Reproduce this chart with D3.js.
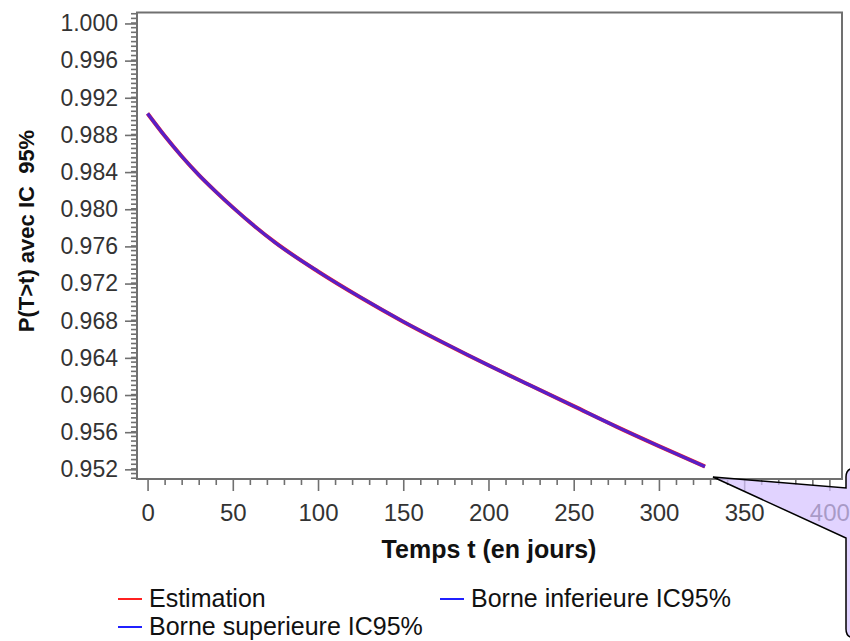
<!DOCTYPE html>
<html>
<head>
<meta charset="utf-8">
<script src="https://cdn.jsdelivr.net/npm/d3@7"></script>
<style>
    body { margin: 0; background: #fff; }
    svg { display: block; font-family: "Liberation Sans", Arial, sans-serif; }
</style>
</head>
<body>
<svg id="chart" width="850" height="641"></svg>
<script>
'use strict';

// values
const TIMES = [0, 10, 20, 30, 40, 50, 75, 100, 125, 150, 175, 200, 225, 250, 275, 300, 327];
const ESTIMATION = [0.9903, 0.9879, 0.9857, 0.9837, 0.9819, 0.9802, 0.9764, 0.9733, 0.9705, 0.9679, 0.9655, 0.9632, 0.9610, 0.9588, 0.9566, 0.9545, 0.9523];
const BORNE_INF = [0.9903, 0.9879, 0.9857, 0.9837, 0.9819, 0.9802, 0.9764, 0.9733, 0.9705, 0.9679, 0.9655, 0.9632, 0.9610, 0.9588, 0.9566, 0.9545, 0.9523];
const BORNE_SUP = [0.9903, 0.9879, 0.9857, 0.9837, 0.9819, 0.9802, 0.9764, 0.9733, 0.9705, 0.9679, 0.9655, 0.9632, 0.9610, 0.9588, 0.9566, 0.9545, 0.9523];

const X_TICKS = [0, 50, 100, 150, 200, 250, 300, 350, 400];
const Y_TICKS = [0.952, 0.956, 0.960, 0.964, 0.968, 0.972, 0.976, 0.980, 0.984, 0.988, 0.992, 0.996, 1.000];

const SERIES = [
    {name: 'Borne superieure IC95%', values: BORNE_SUP, color: '#2020ff'},
    {name: 'Borne inferieure IC95%', values: BORNE_INF, color: '#2020ff'},
    {name: 'Estimation', values: ESTIMATION, color: '#ff2020'}
];

const FRAME = {left: 137, top: 12.5, right: 842, bottom: 479};
const AXIS_COLOR = '#707070';

let svg = d3.select('#chart');

let x = d3.scaleLinear().domain([-6.2, 407.4]).range([FRAME.left, FRAME.right]);
let y = d3.scaleLinear().domain([0.95096, 1.00118]).range([FRAME.bottom, FRAME.top]);

// minor ticks
let xMinor = d3.range(0, 401, 10).filter((d) => d % 50 !== 0);
let yMinor = d3.range(9511, 10012, 5).map((d) => d / 10000).filter((d) => Math.round(d * 10000) % 40 !== 0);

function styleAxis(g) {
    g.select('.domain').remove();
    g.selectAll('line').attr('stroke', AXIS_COLOR).attr('stroke-width', 1.6);
    g.selectAll('text').attr('fill', '#333');
}

svg.append('g')
    .attr('transform', `translate(0,${FRAME.bottom})`)
    .call(d3.axisBottom(x).tickValues(xMinor).tickSize(6).tickFormat(''))
    .call(styleAxis);

svg.append('g')
    .attr('transform', `translate(0,${FRAME.bottom})`)
    .call(d3.axisBottom(x).tickValues(X_TICKS).tickSize(12).tickPadding(13).tickFormat(d3.format('d')))
    .call(styleAxis)
    .selectAll('text')
    .style('font-size', '24px');

svg.append('g')
    .attr('transform', `translate(${FRAME.left},0)`)
    .call(d3.axisLeft(y).tickValues(yMinor).tickSize(6).tickFormat(''))
    .call(styleAxis);

svg.append('g')
    .attr('transform', `translate(${FRAME.left},0)`)
    .call(d3.axisLeft(y).tickValues(Y_TICKS).tickSize(12).tickPadding(7).tickFormat(d3.format('.3f')))
    .call(styleAxis)
    .selectAll('text')
    .style('font-size', '23px');

svg.append('rect')
    .attr('x', FRAME.left)
    .attr('y', FRAME.top)
    .attr('width', FRAME.right - FRAME.left)
    .attr('height', FRAME.bottom - FRAME.top)
    .attr('fill', 'none')
    .attr('stroke', AXIS_COLOR)
    .attr('stroke-width', 2);

// curves: the three series sit on top of each other
let line = d3.line()
    .x((d, i) => x(TIMES[i]))
    .y((d) => y(d))
    .curve(d3.curveMonotoneX);

svg.append('path')
    .attr('d', line(ESTIMATION))
    .attr('fill', 'none')
    .attr('stroke', '#ff2020')
    .attr('stroke-width', 4);

SERIES.filter((s) => s.name !== 'Estimation').forEach((s) => {
    svg.append('path')
        .attr('d', line(s.values))
        .attr('fill', 'none')
        .attr('stroke', s.color)
        .attr('stroke-width', 3.2)
        .attr('stroke-opacity', 0.5);
});

// axis titles
svg.append('text')
    .attr('x', 489)
    .attr('y', 558)
    .attr('text-anchor', 'middle')
    .style('font-size', '25px')
    .style('font-weight', 'bold')
    .attr('fill', '#111')
    .text('Temps t (en jours)');

svg.append('text')
    .attr('transform', 'translate(34,231) rotate(-90)')
    .attr('text-anchor', 'middle')
    .style('font-size', '22px')
    .style('font-weight', 'bold')
    .style('white-space', 'pre')
    .attr('fill', '#111')
    .text('P(T>t) avec IC  95%');

// legend
const LEGEND = [
    {name: 'Estimation', color: '#ff2020', x: 118, y: 599},
    {name: 'Borne inferieure IC95%', color: '#2020ff', x: 440, y: 599},
    {name: 'Borne superieure IC95%', color: '#2020ff', x: 118, y: 627}
];

let items = svg.append('g').selectAll('g')
    .data(LEGEND)
    .enter()
    .append('g')
    .attr('transform', (d) => `translate(${d.x},${d.y})`);

items.append('line')
    .attr('x1', 0).attr('x2', 24)
    .attr('stroke', (d) => d.color)
    .attr('stroke-width', 2);

items.append('text')
    .attr('x', 31)
    .attr('y', 8)
    .style('font-size', '25px')
    .attr('fill', '#111')
    .text((d) => d.name);

// speech bubble pasted over the bottom right corner
svg.append('path')
    .attr('d', 'M713,477 L846,488 L846,477 Q846,468 855,468 L900,468 L900,638 L855,638 Q846,638 846,629 L846,538 Z')
    .attr('fill', '#d6c2ff')
    .attr('fill-opacity', 0.72)
    .attr('stroke', '#000')
    .attr('stroke-width', 1.5);
</script>
</body>
</html>
